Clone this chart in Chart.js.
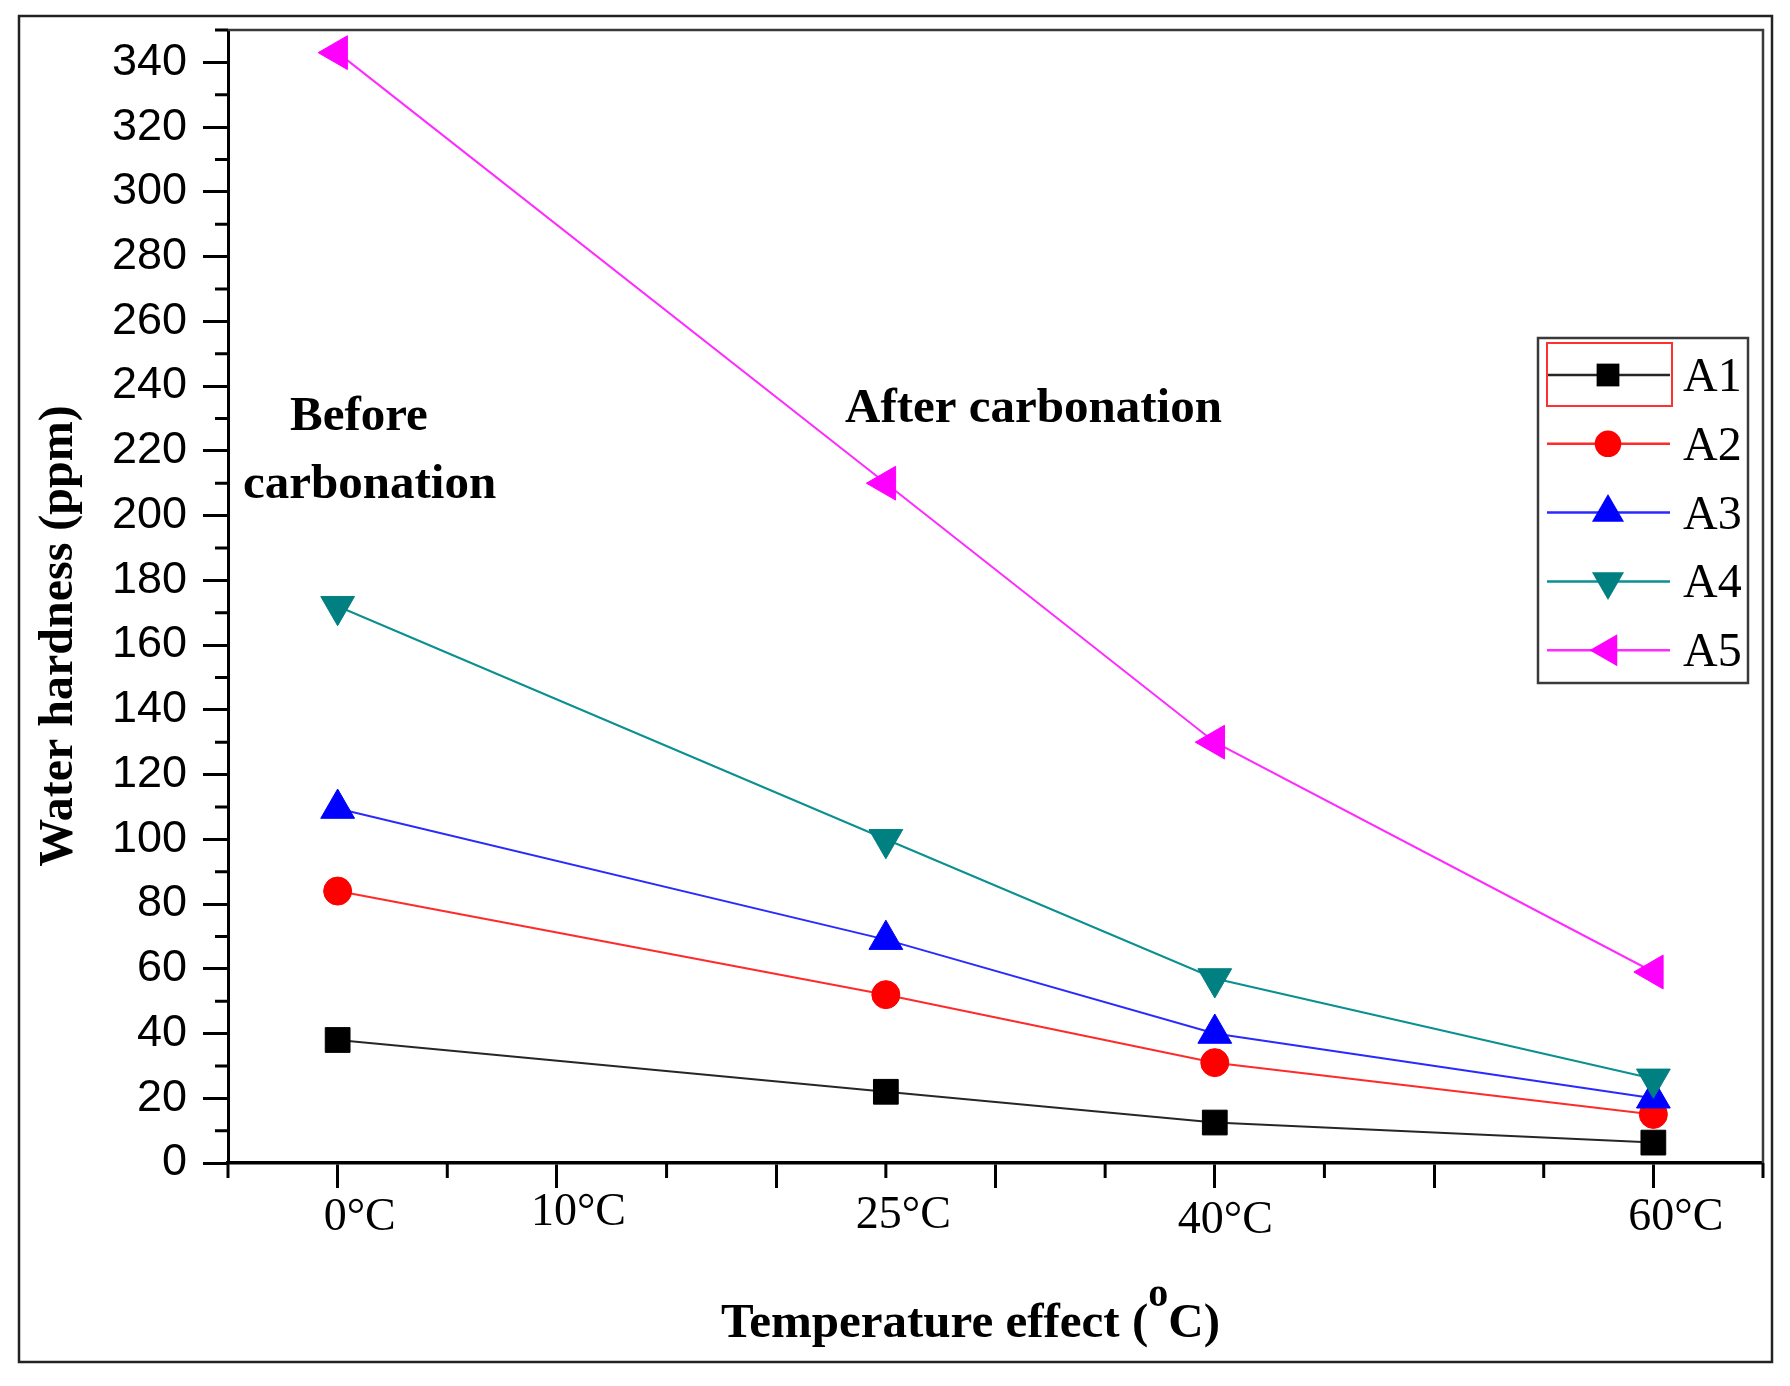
<!DOCTYPE html>
<html>
<head>
<meta charset="utf-8">
<script src="https://cdn.jsdelivr.net/npm/chart.js@4.4.1/dist/chart.umd.min.js"></script>
<style>
html,body{margin:0;padding:0;background:#fff;}
canvas{display:block;}
</style>
</head>
<body>
<canvas id="c" width="1790" height="1386"></canvas>
<script>
// ---------- data ----------
const temperatures = [0, 25, 40, 60];
const seriesNames = ['A1', 'A2', 'A3', 'A4', 'A5'];
const A1 = [38, 22, 12.5, 6.3];
const A2 = [84, 52, 31, 15];
const A3 = [109.5, 69, 40, 20];
const A4 = [172, 100, 57, 26];
const A5 = [343, 210, 130, 59];
const yTickValues = [0, 20, 40, 60, 80, 100, 120, 140, 160, 180, 200, 220, 240, 260, 280, 300, 320, 340];
const xMajorTicks = [0, 10, 20, 30, 40, 50, 60];
const xLabelValues = [0, 10, 25, 40, 60];
const xLabelTexts = ['0°C', '10°C', '25°C', '40°C', '60°C'];
const xAxisTitle = 'Temperature effect (';
const yAxisTitle = 'Water hardness (ppm)';
const noteBefore = ['Before', 'carbonation'];
const noteAfter = 'After carbonation';

// ---------- styles ----------
const seriesValues = [A1, A2, A3, A4, A5];
const markerColors = ['#000000', '#ff0000', '#0000ff', '#008080', '#ff00ff'];
const lineColors = ['#262626', '#ff2a2a', '#2a2aff', '#0a9090', '#ff2aff'];
const markerStyles = ['rect', 'circle', 'triangle', 'triangle', 'triangle'];
const markerRotations = [0, 0, 0, 180, 270];
const markerRadii = [17.5, 14, 19.5, 19.5, 19.5];

const SERIF = '"Liberation Serif", "Times New Roman", serif';
const SANS = '"Liberation Sans", Arial, sans-serif';

const datasets = seriesNames.map((name, i) => ({
  label: name,
  data: temperatures.map((t, k) => ({ x: t, y: seriesValues[i][k] })),
  showLine: true,
  borderColor: lineColors[i],
  borderWidth: 2,
  backgroundColor: markerColors[i],
  pointBackgroundColor: markerColors[i],
  pointBorderColor: markerColors[i],
  pointBorderWidth: 1,
  pointStyle: markerStyles[i],
  pointRotation: markerRotations[i],
  pointRadius: markerRadii[i],
  pointHoverRadius: markerRadii[i],
  tension: 0,
  order: seriesNames.length - i
}));

function drawMarker(ctx, style, rot, r, x, y) {
  ctx.beginPath();
  if (style === 'rect') {
    const s = Math.SQRT1_2 * r;
    ctx.rect(x - s, y - s, 2 * s, 2 * s);
  } else if (style === 'circle') {
    ctx.arc(x, y, r, 0, Math.PI * 2);
  } else {
    let rad = rot * Math.PI / 180;
    ctx.moveTo(x + Math.sin(rad) * r, y - Math.cos(rad) * r);
    rad += 2 * Math.PI / 3;
    ctx.lineTo(x + Math.sin(rad) * r, y - Math.cos(rad) * r);
    rad += 2 * Math.PI / 3;
    ctx.lineTo(x + Math.sin(rad) * r, y - Math.cos(rad) * r);
    ctx.closePath();
  }
  ctx.fill();
}

const decor = {
  id: 'decor',
  beforeDraw(chart) {
    const ctx = chart.ctx;
    ctx.save();
    ctx.fillStyle = '#ffffff';
    ctx.fillRect(0, 0, chart.width, chart.height);
    ctx.restore();
  },
  afterDraw(chart) {
    const ctx = chart.ctx;
    const a = chart.chartArea;
    const xs = chart.scales.x, ys = chart.scales.y;
    ctx.save();

    // outer frame
    ctx.strokeStyle = '#222';
    ctx.lineWidth = 2.5;
    ctx.strokeRect(19, 16, 1753, 1346);

    // top & right plot border
    ctx.strokeStyle = '#3a3a3a';
    ctx.lineWidth = 2.5;
    ctx.beginPath();
    ctx.moveTo(a.left, a.top);
    ctx.lineTo(a.right, a.top);
    ctx.lineTo(a.right, a.bottom);
    ctx.stroke();

    // minor ticks
    ctx.strokeStyle = '#000';
    ctx.lineWidth = 3;
    ctx.beginPath();
    for (let v = 10; v <= ys.max; v += 20) {
      const y = ys.getPixelForValue(v);
      ctx.moveTo(a.left, y);
      ctx.lineTo(a.left - 13, y);
    }
    for (let v = xs.min; v <= xs.max; v += 10) {
      const x = xs.getPixelForValue(v);
      ctx.moveTo(x, a.bottom);
      ctx.lineTo(x, a.bottom + 15);
    }
    ctx.stroke();

    // x tick labels (number roughly on the tick, °C trailing)
    const labelDx = [-14, -26, -30, -37, -25];
    const labelDy = [67, 62, 65, 70, 67];
    ctx.fillStyle = '#000';
    ctx.font = '46px ' + SERIF;
    ctx.textAlign = 'left';
    ctx.textBaseline = 'alphabetic';
    xLabelValues.forEach((v, i) => {
      const x = xs.getPixelForValue(v);
      ctx.fillText(xLabelTexts[i], x + labelDx[i], a.bottom + labelDy[i]);
    });

    // x axis title with superscript o
    const bold = 'bold 49px ' + SERIF;
    const supFont = 'bold 40px ' + SERIF;
    ctx.font = bold;
    const w1 = ctx.measureText(xAxisTitle).width;
    const w3 = ctx.measureText('C)').width;
    ctx.font = supFont;
    const w2 = ctx.measureText('o').width;
    const total = w1 + w2 + w3;
    const cx = (a.left + a.right) / 2 - 25;
    let sx = cx - total / 2;
    const base = 1337;
    ctx.font = bold;
    ctx.fillText(xAxisTitle, sx, base);
    ctx.font = supFont;
    ctx.fillText('o', sx + w1, base - 31);
    ctx.font = bold;
    ctx.fillText('C)', sx + w1 + w2, base);

    // y axis title
    ctx.save();
    ctx.translate(72, 636);
    ctx.rotate(-Math.PI / 2);
    ctx.font = 'bold 48px ' + SERIF;
    ctx.textAlign = 'center';
    ctx.fillText(yAxisTitle, 0, 0);
    ctx.restore();

    // annotations
    ctx.font = bold;
    ctx.textAlign = 'left';
    ctx.fillText(noteBefore[0], 290, 430);
    ctx.fillText(noteBefore[1], 243, 498);
    ctx.fillText(noteAfter, 845, 422);

    // legend
    const lx = 1538, ly = 338, lw = 210, lh = 345;
    ctx.fillStyle = '#fff';
    ctx.fillRect(lx, ly, lw, lh);
    ctx.strokeStyle = '#3a3a3a';
    ctx.lineWidth = 2.5;
    ctx.strokeRect(lx, ly, lw, lh);
    seriesNames.forEach((name, i) => {
      const ry = 375 + i * 68.8;
      ctx.strokeStyle = lineColors[i];
      ctx.lineWidth = 2.5;
      ctx.beginPath();
      ctx.moveTo(1547, ry);
      ctx.lineTo(1670, ry);
      ctx.stroke();
      ctx.fillStyle = markerColors[i];
      drawMarker(ctx, markerStyles[i], markerRotations[i], markerRadii[i] * (i === 0 ? 0.92 : 0.95), 1608, ry);
      ctx.fillStyle = '#000';
      ctx.font = '48px ' + SERIF;
      ctx.fillText(name, 1683, ry + 16);
    });
    // red selection box around first legend sample
    ctx.strokeStyle = '#ff3030';
    ctx.lineWidth = 2;
    ctx.strokeRect(1547, 343, 125, 63);

    ctx.restore();
  }
};

new Chart(document.getElementById('c'), {
  type: 'scatter',
  data: { datasets },
  options: {
    responsive: false,
    devicePixelRatio: 1,
    animation: false,
    layout: { padding: { top: 30, right: 27, left: 0, bottom: 0 } },
    plugins: { legend: { display: false }, tooltip: { enabled: false } },
    scales: {
      x: {
        type: 'linear',
        min: -5,
        max: 65,
        afterBuildTicks: (s) => { s.ticks = xMajorTicks.map(v => ({ value: v })); },
        afterFit: (s) => { s.height = 223; s.paddingLeft = 0; s.paddingRight = 0; },
        border: { display: true, color: '#000', width: 3.5 },
        grid: { display: true, drawOnChartArea: false, drawTicks: true, tickLength: 25, tickWidth: 3, tickColor: '#000' },
        ticks: { display: false }
      },
      y: {
        type: 'linear',
        min: 0,
        max: 350,
        afterBuildTicks: (s) => { s.ticks = yTickValues.map(v => ({ value: v })); },
        afterFit: (s) => { s.width = 228; s.paddingTop = 0; s.paddingBottom = 0; },
        border: { display: true, color: '#000', width: 3 },
        grid: { display: true, drawOnChartArea: false, drawTicks: true, tickLength: 25, tickWidth: 3, tickColor: '#000' },
        ticks: {
          color: '#000',
          font: { family: SANS, size: 45 },
          padding: 16,
          callback: (v) => String(v)
        }
      }
    }
  },
  plugins: [decor]
});
</script>
</body>
</html>
